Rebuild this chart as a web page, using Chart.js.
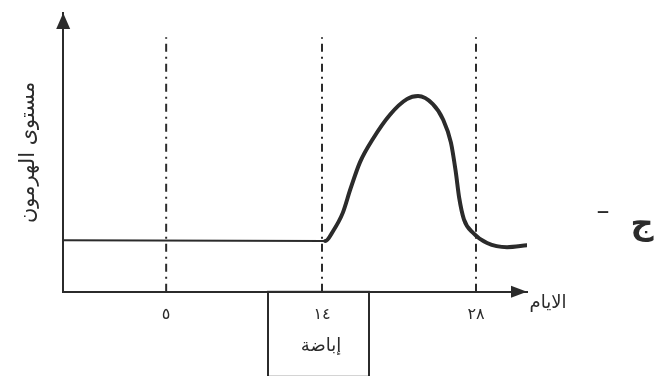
<!DOCTYPE html>
<html lang="ar">
<head>
<meta charset="utf-8">
<title>مستوى الهرمون</title>
<script src="https://cdn.jsdelivr.net/npm/chart.js@4.4.1/dist/chart.umd.min.js"></script>
<style>
    html, body { margin: 0; padding: 0; background: #fff; }
    #wrap { width: 662px; height: 376px; position: relative; }
</style>
</head>
<body>
<div id="wrap"><canvas id="hormoneChart"></canvas></div>
<script>
// x is drawing position along the axis (0-100), the days are not to scale in the original
const dayLabels = ['٥', '١٤', '٢٨'];
const dayPos = [22.2, 55.8, 89.0];
const guideTop = 91.3;

// hormone curve
const curvePos   = [0, 56.5, 58.2, 60.3, 61.9, 64.0, 66.8, 70.5, 74.1, 76.5, 79.7, 81.9, 83.6, 84.6, 85.4, 86.4, 88.4, 91.4, 95.7, 100];
const curveLevel = [18.5, 18.2, 21.8, 28.4, 36.7, 46.5, 54.9, 63.6, 69.1, 70.2, 67.3, 61.8, 53.5, 43.5, 33.5, 26.0, 21.1, 17.5, 16.0, 16.7];

const yTitle = 'مستوى الهرمون';
const xTitle = 'الايام';
const boxLabel = 'إباضة';
const sideLabel = 'ج';

const INK = '#2b2b2b';
const FONT = '"DejaVu Sans", sans-serif';

const guideSets = dayPos.map(p => ({
    data: [{ x: p, y: 0 }, { x: p, y: guideTop }],
    borderColor: INK,
    borderWidth: 2,
    borderDash: [8, 5, 2, 5],
    pointRadius: 0,
    tension: 0
}));

const decor = {
    id: 'decor',
    afterDraw(chart) {
        const { ctx, chartArea: a, scales } = chart;
        const x14 = scales.x.getPixelForValue(dayPos[1]);
        ctx.save();
        ctx.fillStyle = INK;
        ctx.strokeStyle = INK;

        // arrow heads
        ctx.beginPath();
        ctx.moveTo(a.left, a.top);
        ctx.lineTo(a.left - 7, a.top + 16);
        ctx.lineTo(a.left + 7, a.top + 16);
        ctx.closePath();
        ctx.fill();
        ctx.beginPath();
        ctx.moveTo(a.right, a.bottom);
        ctx.lineTo(a.right - 16, a.bottom - 6);
        ctx.lineTo(a.right - 16, a.bottom + 6);
        ctx.closePath();
        ctx.fill();

        // ovulation box under day 14
        ctx.lineWidth = 2;
        ctx.strokeRect(x14 - 54, a.bottom, 101, 85);
        ctx.textAlign = 'center';
        ctx.textBaseline = 'middle';
        ctx.font = '18px ' + FONT;
        ctx.fillText(boxLabel, x14 - 1, a.bottom + 55);

        // axis name and side mark
        ctx.font = '18px ' + FONT;
        ctx.fillText(xTitle, a.right + 21, a.bottom + 12);
        ctx.font = 'bold 32px ' + FONT;
        ctx.fillText(sideLabel, 642, 226);
        ctx.font = '26px ' + FONT;
        ctx.fillText('–', 603, 212);
        ctx.restore();
    }
};

new Chart(document.getElementById('hormoneChart'), {
    type: 'line',
    data: {
        datasets: [{
            data: curvePos.map((p, i) => ({ x: p, y: curveLevel[i] })),
            borderColor: INK,
            borderWidth: 4,
            segment: { borderWidth: c => c.p1.parsed.x <= 56.5 ? 2 : 4 },
            pointRadius: 0,
            cubicInterpolationMode: 'monotone',
            borderCapStyle: 'round',
            borderJoinStyle: 'round'
        }, ...guideSets]
    },
    options: {
        responsive: true,
        maintainAspectRatio: false,
        animation: false,
        layout: { padding: { left: 0, top: 13, right: 135, bottom: 39 } },
        plugins: { legend: { display: false }, tooltip: { enabled: false } },
        scales: {
            x: {
                type: 'linear',
                min: 0,
                max: 100,
                grid: { display: false, drawTicks: false },
                border: { display: true, color: INK, width: 2 },
                afterBuildTicks: s => { s.ticks = dayPos.map(v => ({ value: v })); },
                ticks: {
                    callback: (v, i) => dayLabels[i],
                    font: { size: 16, family: FONT },
                    color: INK,
                    padding: 13,
                    maxRotation: 0,
                    autoSkip: false
                }
            },
            y: {
                min: 0,
                max: 100,
                grid: { display: false, drawTicks: false },
                border: { display: true, color: INK, width: 2 },
                ticks: { display: false },
                title: {
                    display: true,
                    text: yTitle,
                    color: INK,
                    font: { size: 21, family: FONT },
                    padding: { top: 16, bottom: 22 }
                }
            }
        }
    },
    plugins: [decor]
});
</script>
</body>
</html>
